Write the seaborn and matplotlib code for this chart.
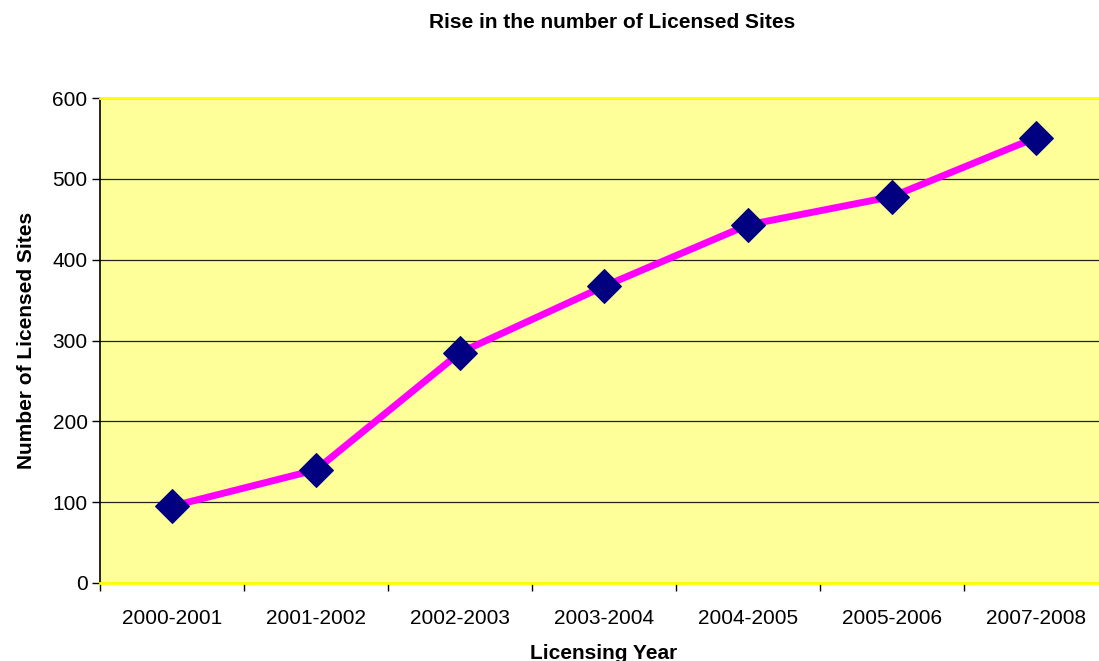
import numpy as np
import pandas as pd
import seaborn as sns
import matplotlib.pyplot as plt

years = ["2000-2001", "2001-2002", "2002-2003", "2003-2004", "2004-2005", "2005-2006", "2007-2008"]
sites = [95, 140, 285, 367, 443, 478, 551]

df = pd.DataFrame({"year": years, "sites": sites})

sns.set_style("white")
plt.rcParams['font.family'] = ['Liberation Sans', 'DejaVu Sans']
plt.rcParams['text.color'] = 'black'
plt.rcParams['axes.labelcolor'] = 'black'
plt.rcParams['xtick.color'] = 'black'
plt.rcParams['ytick.color'] = 'black'

fig = plt.figure(figsize=(10.99, 6.61), dpi=100)
ax = fig.add_axes([100 / 1099, 1 - 583 / 661, 1008 / 1099, 485 / 661])
ax.set_facecolor("#FFFF99")

ax.yaxis.grid(True, color="#222222", linewidth=0.9)
ax.set_axisbelow(True)

sns.lineplot(x="year", y="sites", data=df, ax=ax, color="#FF00FF", linewidth=5,
             marker="D", markersize=17, markerfacecolor="#000080", markeredgecolor="#000080",
             zorder=3)

ax.set_xlim(-0.5, len(years) - 0.5)
ax.set_ylim(0, 600)
ax.set_yticks(range(0, 601, 100))
ax.tick_params(axis="y", labelsize=15, length=6, width=1, direction="out", left=True, pad=3)
ax.tick_params(axis="x", which="major", labelsize=15, length=0, pad=19)
ax.set_xticks(np.arange(-0.5, len(years) + 0.5, 1), minor=True)
ax.tick_params(axis="x", which="minor", length=6, width=1, direction="out", bottom=True)

for s in ["top", "bottom", "right"]:
    ax.spines[s].set_color("#FFFF00")
    ax.spines[s].set_linewidth(2)
ax.spines["left"].set_color("black")
ax.spines["left"].set_linewidth(1.2)

ax.set_xlabel("Licensing Year", fontsize=15, fontweight="bold", labelpad=11)
ax.set_ylabel("Number of Licensed Sites", fontsize=15, fontweight="bold", labelpad=12)
fig.text(612 / 1099, 1 - 22 / 661, "Rise in the number of Licensed Sites",
         ha="center", va="center", fontsize=15, fontweight="bold")

fig.savefig("out.png", dpi=100)
